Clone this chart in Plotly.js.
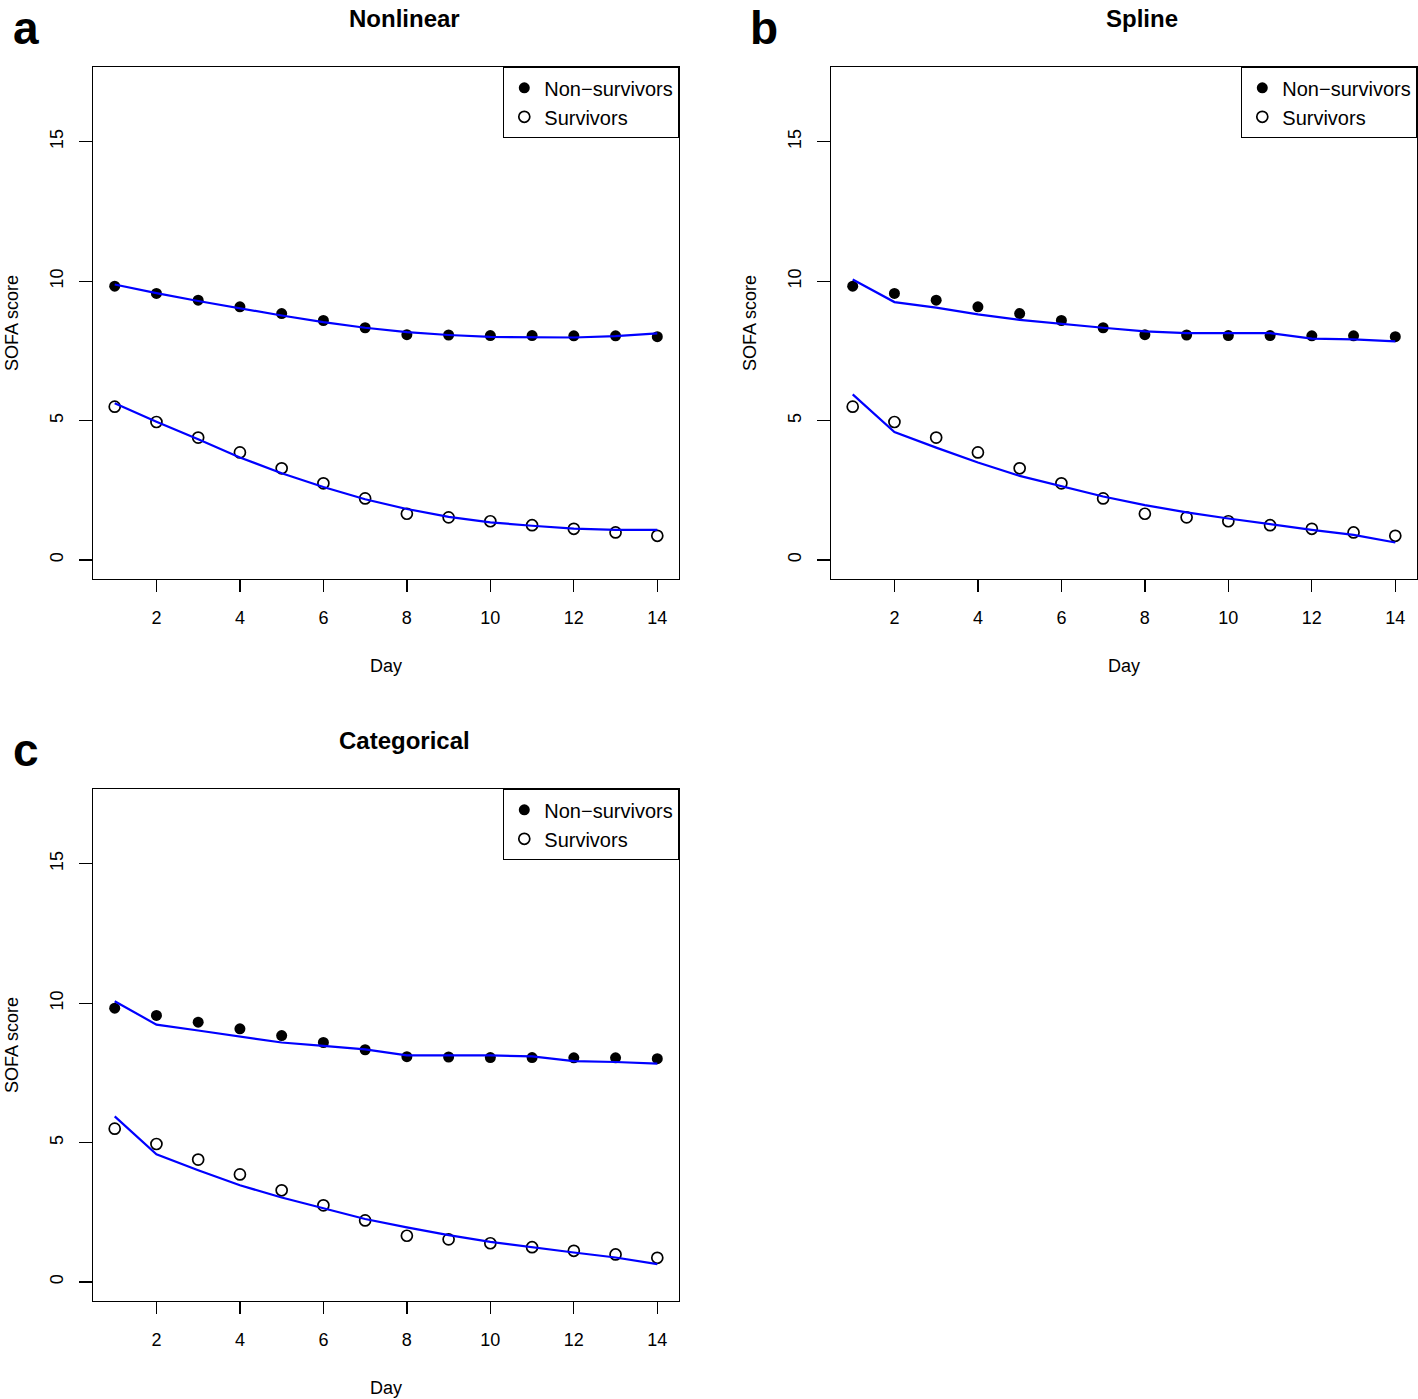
<!DOCTYPE html>
<html>
<head>
<meta charset="utf-8">
<script src="https://cdn.plot.ly/plotly-3.0.1.min.js"></script>
<style>html,body{margin:0;padding:0;background:#fff;}#chart{width:1418px;height:1399px;}</style>
</head>
<body>
<div id="chart"></div>
<script>
// ---- data ----
const days = [1, 2, 3, 4, 5, 6, 7, 8, 9, 10, 11, 12, 13, 14];
const seriesNames = ["Non\u2212survivors", "Survivors"];
const panelTitles = ["Nonlinear", "Spline", "Categorical"];
const panelLetters = ["a", "b", "c"];
const xTickVals = [2, 4, 6, 8, 10, 12, 14];
const yTickVals = [0, 5, 10, 15];

// observed mean SOFA scores (same in all panels)
const nonSurvObs = [9.82, 9.56, 9.32, 9.08, 8.84, 8.59, 8.33, 8.08, 8.07, 8.05, 8.05, 8.04, 8.04, 8.01];
const survObs    = [5.50, 4.95, 4.39, 3.86, 3.29, 2.75, 2.21, 1.66, 1.53, 1.39, 1.25, 1.12, 0.99, 0.87];

// fitted curves
const nonlinNonSurv = [9.88, 9.57, 9.29, 9.02, 8.77, 8.53, 8.33, 8.17, 8.07, 8.00, 7.98, 7.98, 8.03, 8.13];
const nonlinSurv    = [5.62, 4.96, 4.33, 3.68, 3.11, 2.62, 2.18, 1.83, 1.55, 1.35, 1.23, 1.13, 1.08, 1.08];
const splineNonSurv = [10.06, 9.25, 9.05, 8.81, 8.61, 8.46, 8.33, 8.20, 8.14, 8.14, 8.14, 7.94, 7.91, 7.84];
const splineSurv    = [5.94, 4.59, 4.03, 3.50, 3.02, 2.64, 2.28, 1.97, 1.71, 1.49, 1.28, 1.08, 0.90, 0.63];
const catNonSurv    = [10.07, 9.23, 9.02, 8.81, 8.59, 8.47, 8.34, 8.13, 8.13, 8.13, 8.09, 7.92, 7.89, 7.83];
const catSurv       = [5.94, 4.58, 4.01, 3.47, 3.03, 2.64, 2.26, 1.96, 1.68, 1.44, 1.24, 1.06, 0.88, 0.64];

const fits = [[nonlinNonSurv, nonlinSurv], [splineNonSurv, splineSurv], [catNonSurv, catSurv]];

// ---- layout geometry (pixels) ----
const W = 1418, H = 1399;
const boxes = [
  {l: 93, r: 679, t: 67, b: 579},
  {l: 831, r: 1417, t: 67, b: 579},
  {l: 93, r: 679, t: 789, b: 1301}
];
const FONT = "Liberation Sans, Arial, Helvetica, sans-serif";

const traces = [];
const layout = {
  width: W, height: H,
  margin: {l: 0, r: 0, t: 0, b: 0},
  paper_bgcolor: "#ffffff", plot_bgcolor: "#ffffff",
  font: {family: FONT, size: 18, color: "#000"},
  annotations: [],
  showlegend: true
};

boxes.forEach((bx, i) => {
  const n = i + 1;
  const xa = n === 1 ? "x" : "x" + n;
  const ya = n === 1 ? "y" : "y" + n;
  const lg = n === 1 ? "legend" : "legend" + n;
  const xd = [bx.l / W, bx.r / W];
  const yd = [1 - bx.b / H, 1 - bx.t / H];

  layout[n === 1 ? "xaxis" : "xaxis" + n] = {
    domain: xd, anchor: ya, range: [0.48, 14.52],
    tickmode: "array", tickvals: xTickVals,
    ticks: "outside", ticklen: 12, tickwidth: 1.3, tickcolor: "#000",
    ticklabelstandoff: 10,
    showline: true, mirror: true, linecolor: "#000", linewidth: 1.3,
    showgrid: false, zeroline: false, automargin: false,
    tickfont: {family: FONT, size: 18, color: "#000"}
  };
  layout[n === 1 ? "yaxis" : "yaxis" + n] = {
    domain: yd, anchor: xa, range: [-0.68, 17.68],
    tickmode: "array", tickvals: yTickVals,
    ticks: "outside", ticklen: 13, tickwidth: 1.3, tickcolor: "#000",
    tickangle: -90, ticklabelstandoff: 9,
    showline: true, mirror: true, linecolor: "#000", linewidth: 1.3,
    showgrid: false, zeroline: false, automargin: false,
    tickfont: {family: FONT, size: 18, color: "#000"}
  };
  layout[lg] = {
    x: bx.r / W, xanchor: "right", y: 1 - bx.t / H, yanchor: "top",
    xref: "paper", yref: "paper",
    bgcolor: "#ffffff", bordercolor: "#000", borderwidth: 1.3,
    font: {family: FONT, size: 20, color: "#000"},
    itemwidth: 30, tracegroupgap: 0
  };

  traces.push({
    x: days, y: nonSurvObs, xaxis: xa, yaxis: ya, legend: lg,
    type: "scatter", mode: "markers", name: seriesNames[0],
    marker: {symbol: "circle", size: 11, color: "#000"}
  });
  traces.push({
    x: days, y: survObs, xaxis: xa, yaxis: ya, legend: lg,
    type: "scatter", mode: "markers", name: seriesNames[1],
    marker: {symbol: "circle-open", size: 11, color: "#000", line: {width: 1.7, color: "#000"}}
  });
  fits[i].forEach(f => {
    traces.push({
      x: days, y: f, xaxis: xa, yaxis: ya, showlegend: false,
      type: "scatter", mode: "lines", line: {color: "#0000ff", width: 2.2},
      hoverinfo: "skip"
    });
  });

  // panel title
  layout.annotations.push({
    text: "<b>" + panelTitles[i] + "</b>", xref: "paper", yref: "paper",
    x: (bx.l + 311) / W, y: 1 - (bx.t - 49) / H, xanchor: "center", yanchor: "middle",
    showarrow: false, font: {family: FONT, size: 24, color: "#000"}
  });
  // panel letter
  layout.annotations.push({
    text: "<b>" + panelLetters[i] + "</b>", xref: "paper", yref: "paper",
    x: (bx.l - 67) / W, y: 1 - Math.max(0, bx.t - 67) / H, xanchor: "center", yanchor: "top",
    showarrow: false, font: {family: FONT, size: 46, color: "#000"}
  });
  // x axis title
  layout.annotations.push({
    text: "Day", xref: "paper", yref: "paper",
    x: (bx.l + bx.r) / 2 / W, y: 1 - (bx.b + 87) / H, xanchor: "center", yanchor: "middle",
    showarrow: false, font: {family: FONT, size: 18, color: "#000"}
  });
  // y axis title
  layout.annotations.push({
    text: "SOFA score", xref: "paper", yref: "paper", textangle: -90,
    x: (bx.l - 93) / W, y: 1 - (bx.t + bx.b) / 2 / H, xanchor: "left", yanchor: "middle",
    showarrow: false, font: {family: FONT, size: 18, color: "#000"}
  });
});

Plotly.newPlot("chart", traces, layout, {staticPlot: true, displayModeBar: false});
</script>
</body>
</html>
